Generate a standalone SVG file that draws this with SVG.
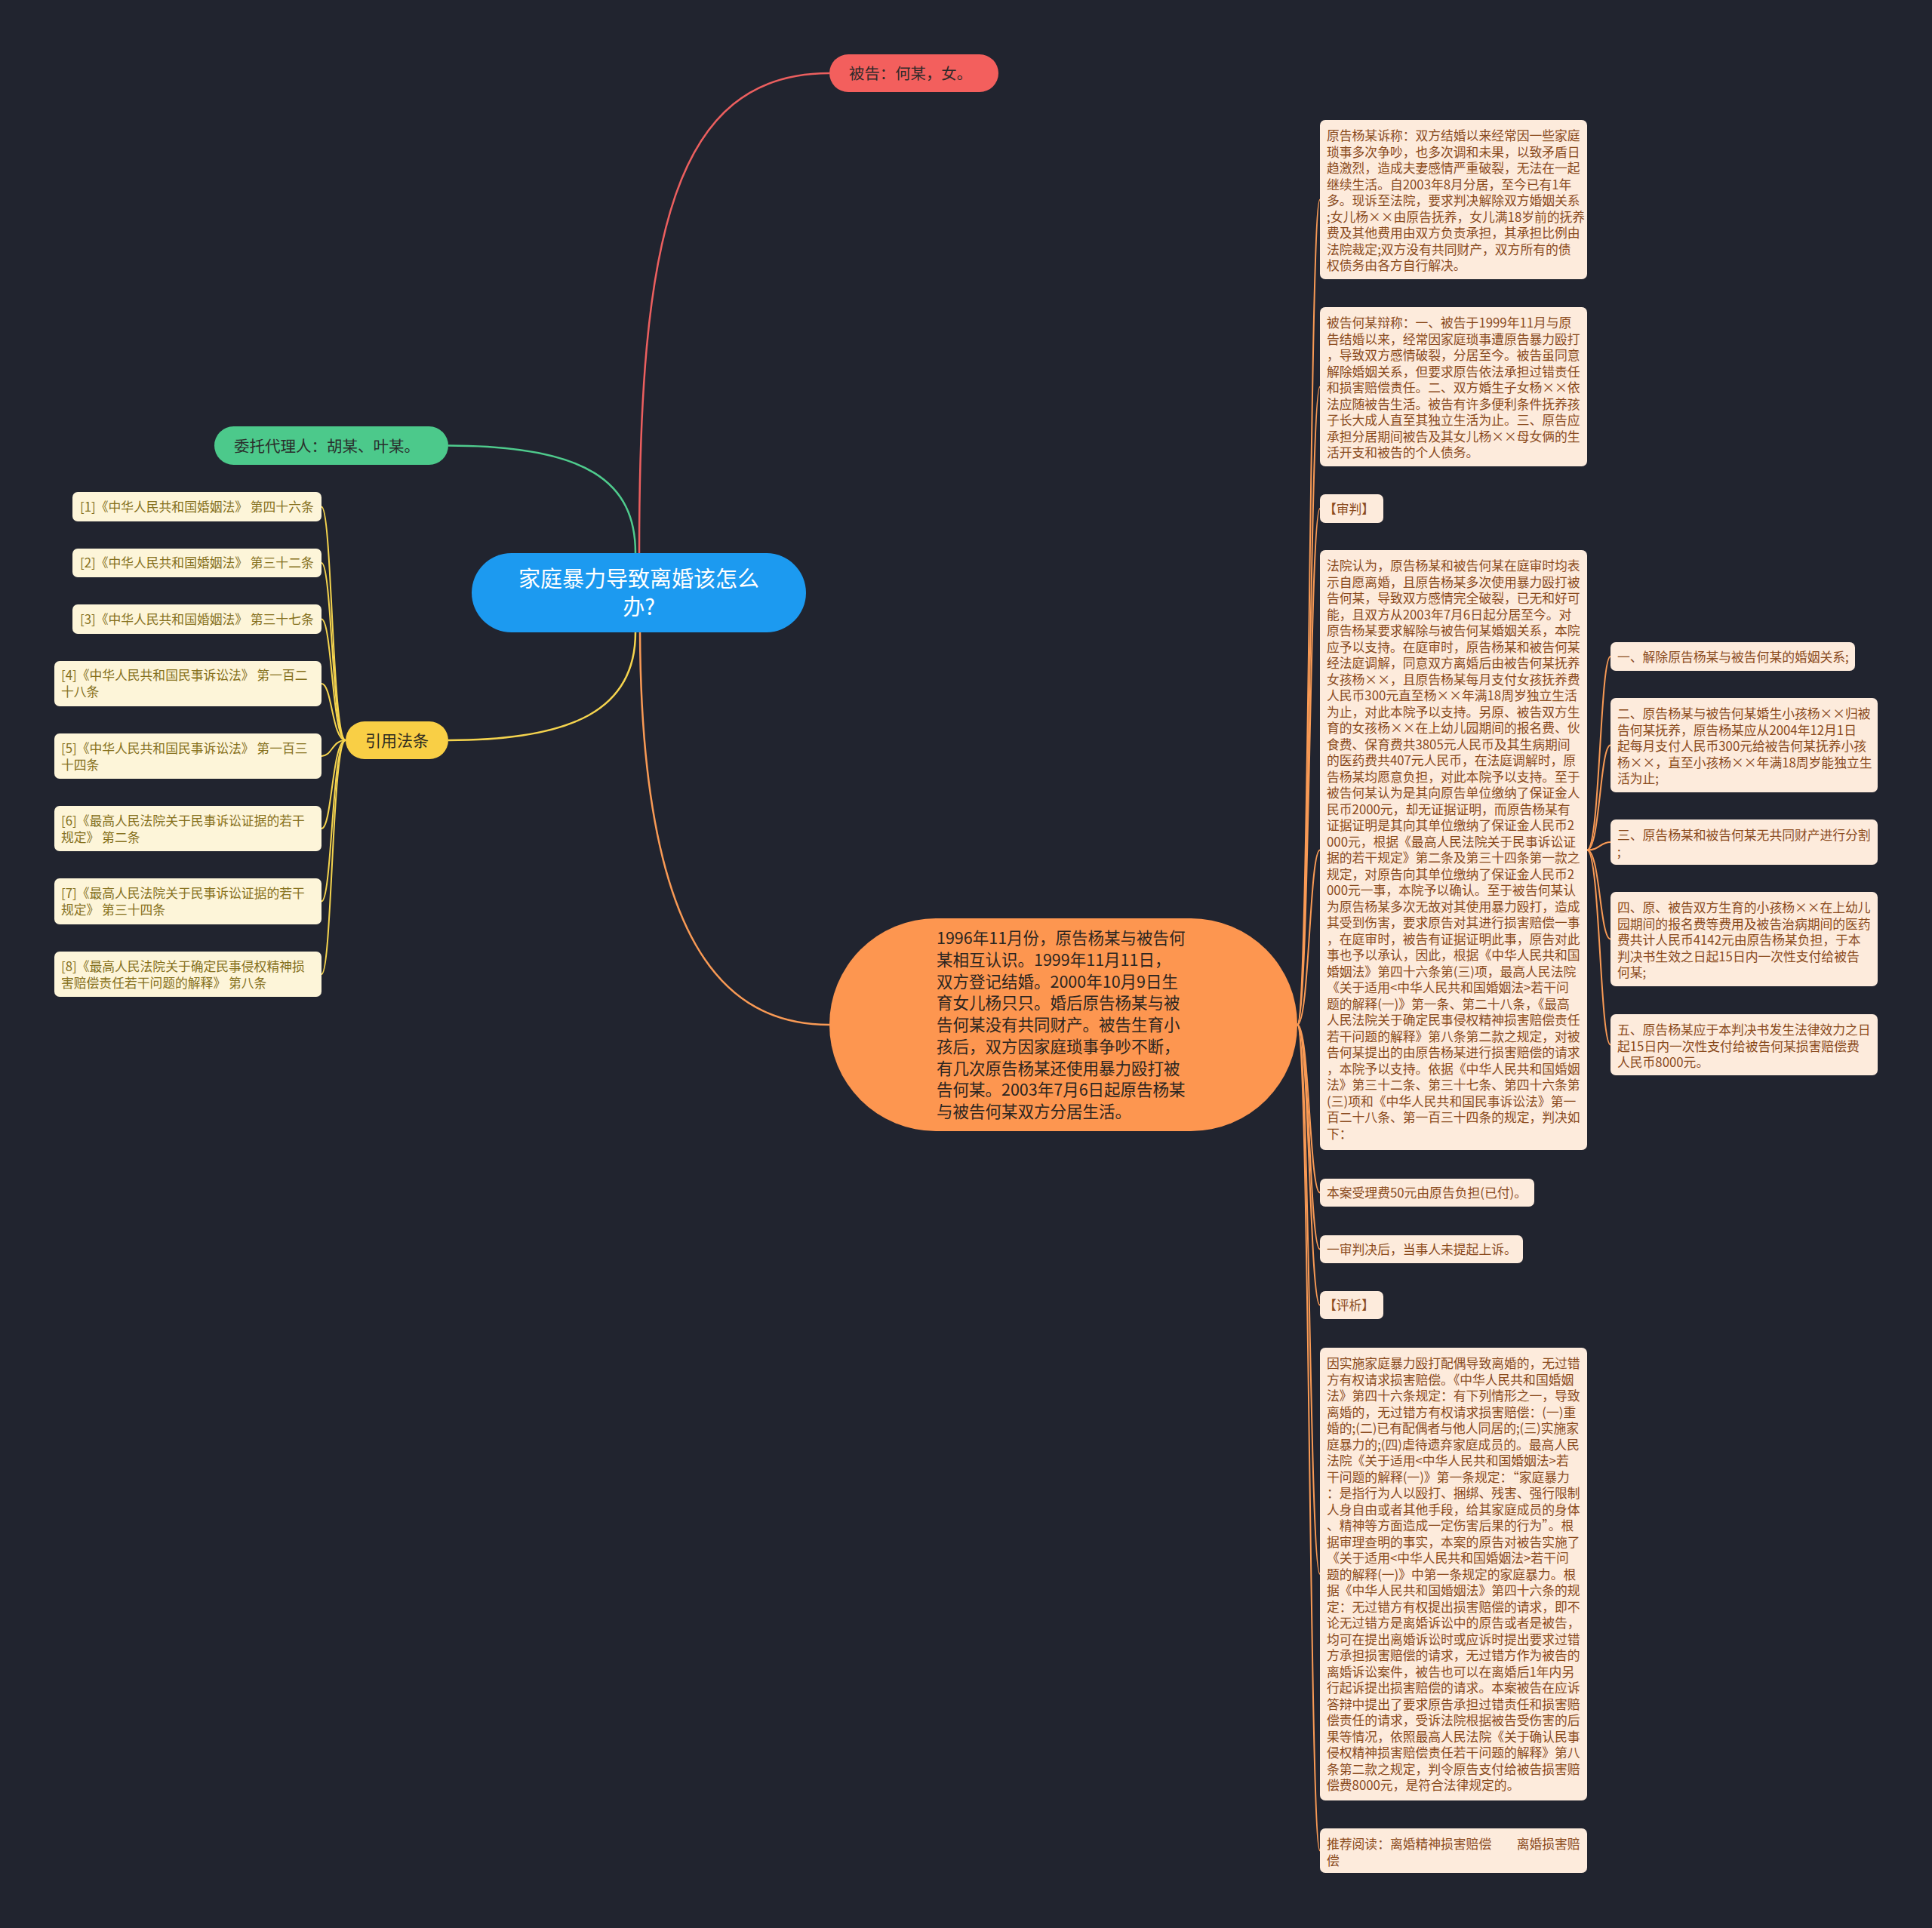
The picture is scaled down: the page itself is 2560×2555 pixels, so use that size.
<svg xmlns="http://www.w3.org/2000/svg" width="2560" height="2555" viewBox="0 0 2560 2555">
<style>
text{font-family:"Noto Sans CJK SC","Noto Sans",sans-serif;}
.bg{fill:#21242f;}
.rb{fill:#fdebdc;}
.rt{fill:#8a4a1c;font-size:16.8px;}
.lb{fill:#fdf5d9;}
.lt{fill:#85701c;font-size:16.8px;}
.c-red{fill:none;stroke:#ec5f5f;stroke-width:2.5;}
.c-green{fill:none;stroke:#4fcb8d;stroke-width:2.5;}
.c-yellow{fill:none;stroke:#f5d44e;stroke-width:2.5;}
.c-orange{fill:none;stroke:#f99a55;stroke-width:2.5;}
.c-y2{fill:none;stroke:#f5d44e;stroke-width:2;}
.c-o2{fill:none;stroke:#f99a55;stroke-width:2;}
</style>
<rect class="bg" x="0" y="0" width="2560" height="2555"/>

<g id="connectors">
<path class="c-red" d="M 847 733 C 847 320 890 97 1099 97"/>
<path class="c-green" d="M 842 733 C 842 640 780 590.5 594 590.5"/>
<path class="c-yellow" d="M 842 838 C 842 940 760 981 594 981"/>
<path class="c-orange" d="M 848 838 C 850 1250 960 1358 1099 1358"/>
<path class="c-y2" d="M 458 981 C 440 981 440 671.5 426 671.5"/>
<path class="c-y2" d="M 458 981 C 440 981 440 746 426 746"/>
<path class="c-y2" d="M 458 981 C 440 981 440 820.5 426 820.5"/>
<path class="c-y2" d="M 458 981 C 440 981 440 906 426 906"/>
<path class="c-y2" d="M 458 981 C 440 981 440 1002 426 1002"/>
<path class="c-y2" d="M 458 981 C 440 981 440 1098 426 1098"/>
<path class="c-y2" d="M 458 981 C 440 981 440 1194.5 426 1194.5"/>
<path class="c-y2" d="M 458 981 C 440 981 440 1291 426 1291"/>
<path class="c-o2" d="M 1719 1358 C 1735 1358 1735 264.5 1749 264.5"/>
<path class="c-o2" d="M 1719 1358 C 1735 1358 1735 512.5 1749 512.5"/>
<path class="c-o2" d="M 1719 1358 C 1735 1358 1735 674 1749 674"/>
<path class="c-o2" d="M 1719 1358 C 1735 1358 1735 1126.5 1749 1126.5"/>
<path class="c-o2" d="M 1719 1358 C 1735 1358 1735 1580.5 1749 1580.5"/>
<path class="c-o2" d="M 1719 1358 C 1735 1358 1735 1655.5 1749 1655.5"/>
<path class="c-o2" d="M 1719 1358 C 1735 1358 1735 1729.5 1749 1729.5"/>
<path class="c-o2" d="M 1719 1358 C 1735 1358 1735 2086 1749 2086"/>
<path class="c-o2" d="M 1719 1358 C 1735 1358 1735 2452.5 1749 2452.5"/>
<path class="c-o2" d="M 2103 1126.5 C 2120 1126.5 2120 870 2134 870"/>
<path class="c-o2" d="M 2103 1126.5 C 2120 1126.5 2120 987.5 2134 987.5"/>
<path class="c-o2" d="M 2103 1126.5 C 2120 1126.5 2120 1116 2134 1116"/>
<path class="c-o2" d="M 2103 1126.5 C 2120 1126.5 2120 1244.5 2134 1244.5"/>
<path class="c-o2" d="M 2103 1126.5 C 2120 1126.5 2120 1384.5 2134 1384.5"/>
</g>

<g id="root">
<rect x="625" y="733" width="443" height="105" rx="52.5" fill="#1c9af0"/>
<text x="846.5" y="778" font-size="29" fill="#ffffff" text-anchor="middle">家庭暴力导致离婚该怎么</text>
<text x="846.5" y="815" font-size="29" fill="#ffffff" text-anchor="middle">办?</text>
</g>

<g id="n-defendant">
<rect x="1099" y="72" width="224" height="50" rx="25" fill="#f35f5d"/>
<text x="1125" y="104.5" font-size="20.4" fill="#2e2a2a">被告：何某，女。</text>
</g>

<g id="n-agent">
<rect x="284" y="565" width="310" height="51" rx="25.5" fill="#4cc98b"/>
<text x="310" y="598.5" font-size="20.5" fill="#2a2f2c">委托代理人：胡某、叶某。</text>
</g>

<g id="n-laws">
<rect x="458" y="956" width="136" height="50" rx="25" fill="#f9cf45"/>
<text x="526" y="989" font-size="21" fill="#2e2a20" text-anchor="middle">引用法条</text>
</g>

<g id="n-law1"><rect class="lb" x="96" y="652" width="330" height="39" rx="7"/><text class="lt" x="106" y="678">[1]《中华人民共和国婚姻法》 第四十六条</text></g>
<g id="n-law2"><rect class="lb" x="96" y="727" width="330" height="38" rx="7"/><text class="lt" x="106" y="752">[2]《中华人民共和国婚姻法》 第三十二条</text></g>
<g id="n-law3"><rect class="lb" x="96" y="801" width="330" height="39" rx="7"/><text class="lt" x="106" y="826.5">[3]《中华人民共和国婚姻法》 第三十七条</text></g>
<g id="n-law4"><rect class="lb" x="72" y="876" width="354" height="60" rx="7"/><text class="lt" x="81" y="901"><tspan x="81">[4]《中华人民共和国民事诉讼法》 第一百二</tspan><tspan x="81" dy="22">十八条</tspan></text></g>
<g id="n-law5"><rect class="lb" x="72" y="972" width="354" height="60" rx="7"/><text class="lt" x="81" y="997.5"><tspan x="81">[5]《中华人民共和国民事诉讼法》 第一百三</tspan><tspan x="81" dy="22">十四条</tspan></text></g>
<g id="n-law6"><rect class="lb" x="72" y="1068" width="354" height="60" rx="7"/><text class="lt" x="81" y="1093.5"><tspan x="81">[6]《最高人民法院关于民事诉讼证据的若干</tspan><tspan x="81" dy="22">规定》 第二条</tspan></text></g>
<g id="n-law7"><rect class="lb" x="72" y="1164" width="354" height="61" rx="7"/><text class="lt" x="81" y="1189.5"><tspan x="81">[7]《最高人民法院关于民事诉讼证据的若干</tspan><tspan x="81" dy="22">规定》 第三十四条</tspan></text></g>
<g id="n-law8"><rect class="lb" x="72" y="1261" width="354" height="60" rx="7"/><text class="lt" x="81" y="1286.5"><tspan x="81">[8]《最高人民法院关于确定民事侵权精神损</tspan><tspan x="81" dy="22">害赔偿责任若干问题的解释》 第八条</tspan></text></g>

<g id="n-facts">
<rect x="1099" y="1217" width="620" height="282" rx="141" fill="#fd9650"/>
<text x="1241" y="1251" font-size="21.5" fill="#2b2520">
<tspan x="1241">1996年11月份，原告杨某与被告何</tspan>
<tspan x="1241" dy="28.75">某相互认识。1999年11月11日，</tspan>
<tspan x="1241" dy="28.75">双方登记结婚。2000年10月9日生</tspan>
<tspan x="1241" dy="28.75">育女儿杨只只。婚后原告杨某与被</tspan>
<tspan x="1241" dy="28.75">告何某没有共同财产。被告生育小</tspan>
<tspan x="1241" dy="28.75">孩后，双方因家庭琐事争吵不断，</tspan>
<tspan x="1241" dy="28.75">有几次原告杨某还使用暴力殴打被</tspan>
<tspan x="1241" dy="28.75">告何某。2003年7月6日起原告杨某</tspan>
<tspan x="1241" dy="28.75">与被告何某双方分居生活。</tspan>
</text>
</g>

<g id="n-claim">
<rect class="rb" x="1749" y="159" width="354" height="211" rx="7"/>
<text class="rt" x="1758" y="186">
<tspan x="1758">原告杨某诉称：双方结婚以来经常因一些家庭</tspan>
<tspan x="1758" dy="21.5">琐事多次争吵，也多次调和未果，以致矛盾日</tspan>
<tspan x="1758" dy="21.5">趋激烈，造成夫妻感情严重破裂，无法在一起</tspan>
<tspan x="1758" dy="21.5">继续生活。自2003年8月分居，至今已有1年</tspan>
<tspan x="1758" dy="21.5">多。现诉至法院，要求判决解除双方婚姻关系</tspan>
<tspan x="1758" dy="21.5">;女儿杨××由原告抚养，女儿满18岁前的抚养</tspan>
<tspan x="1758" dy="21.5">费及其他费用由双方负责承担，其承担比例由</tspan>
<tspan x="1758" dy="21.5">法院裁定;双方没有共同财产，双方所有的债</tspan>
<tspan x="1758" dy="21.5">权债务由各方自行解决。</tspan>
</text>
</g>

<g id="n-defense">
<rect class="rb" x="1749" y="407" width="354" height="211" rx="7"/>
<text class="rt" x="1758" y="434">
<tspan x="1758">被告何某辩称：一、被告于1999年11月与原</tspan>
<tspan x="1758" dy="21.5">告结婚以来，经常因家庭琐事遭原告暴力殴打</tspan>
<tspan x="1758" dy="21.5">，导致双方感情破裂，分居至今。被告虽同意</tspan>
<tspan x="1758" dy="21.5">解除婚姻关系，但要求原告依法承担过错责任</tspan>
<tspan x="1758" dy="21.5">和损害赔偿责任。二、双方婚生子女杨××依</tspan>
<tspan x="1758" dy="21.5">法应随被告生活。被告有许多便利条件抚养孩</tspan>
<tspan x="1758" dy="21.5">子长大成人直至其独立生活为止。三、原告应</tspan>
<tspan x="1758" dy="21.5">承担分居期间被告及其女儿杨××母女俩的生</tspan>
<tspan x="1758" dy="21.5">活开支和被告的个人债务。</tspan>
</text>
</g>

<g id="n-trial">
<rect class="rb" x="1749" y="655" width="84" height="38" rx="7"/>
<text class="rt" x="1754" y="680.5">【审判】</text>
</g>

<g id="n-court">
<rect class="rb" x="1749" y="729" width="354" height="795" rx="7"/>
<text class="rt" x="1758" y="756">
<tspan x="1758">法院认为，原告杨某和被告何某在庭审时均表</tspan>
<tspan x="1758" dy="21.5">示自愿离婚，且原告杨某多次使用暴力殴打被</tspan>
<tspan x="1758" dy="21.5">告何某，导致双方感情完全破裂，已无和好可</tspan>
<tspan x="1758" dy="21.5">能，且双方从2003年7月6日起分居至今。对</tspan>
<tspan x="1758" dy="21.5">原告杨某要求解除与被告何某婚姻关系，本院</tspan>
<tspan x="1758" dy="21.5">应予以支持。在庭审时，原告杨某和被告何某</tspan>
<tspan x="1758" dy="21.5">经法庭调解，同意双方离婚后由被告何某抚养</tspan>
<tspan x="1758" dy="21.5">女孩杨××，且原告杨某每月支付女孩抚养费</tspan>
<tspan x="1758" dy="21.5">人民币300元直至杨××年满18周岁独立生活</tspan>
<tspan x="1758" dy="21.5">为止，对此本院予以支持。另原、被告双方生</tspan>
<tspan x="1758" dy="21.5">育的女孩杨××在上幼儿园期间的报名费、伙</tspan>
<tspan x="1758" dy="21.5">食费、保育费共3805元人民币及其生病期间</tspan>
<tspan x="1758" dy="21.5">的医药费共407元人民币，在法庭调解时，原</tspan>
<tspan x="1758" dy="21.5">告杨某均愿意负担，对此本院予以支持。至于</tspan>
<tspan x="1758" dy="21.5">被告何某认为是其向原告单位缴纳了保证金人</tspan>
<tspan x="1758" dy="21.5">民币2000元，却无证据证明，而原告杨某有</tspan>
<tspan x="1758" dy="21.5">证据证明是其向其单位缴纳了保证金人民币2</tspan>
<tspan x="1758" dy="21.5">000元，根据《最高人民法院关于民事诉讼证</tspan>
<tspan x="1758" dy="21.5">据的若干规定》第二条及第三十四条第一款之</tspan>
<tspan x="1758" dy="21.5">规定，对原告向其单位缴纳了保证金人民币2</tspan>
<tspan x="1758" dy="21.5">000元一事，本院予以确认。至于被告何某认</tspan>
<tspan x="1758" dy="21.5">为原告杨某多次无故对其使用暴力殴打，造成</tspan>
<tspan x="1758" dy="21.5">其受到伤害，要求原告对其进行损害赔偿一事</tspan>
<tspan x="1758" dy="21.5">，在庭审时，被告有证据证明此事，原告对此</tspan>
<tspan x="1758" dy="21.5">事也予以承认，因此，根据《中华人民共和国</tspan>
<tspan x="1758" dy="21.5">婚姻法》第四十六条第(三)项，最高人民法院</tspan>
<tspan x="1758" dy="21.5">《关于适用&lt;中华人民共和国婚姻法&gt;若干问</tspan>
<tspan x="1758" dy="21.5">题的解释(一)》第一条、第二十八条，《最高</tspan>
<tspan x="1758" dy="21.5">人民法院关于确定民事侵权精神损害赔偿责任</tspan>
<tspan x="1758" dy="21.5">若干问题的解释》第八条第二款之规定，对被</tspan>
<tspan x="1758" dy="21.5">告何某提出的由原告杨某进行损害赔偿的请求</tspan>
<tspan x="1758" dy="21.5">，本院予以支持。依据《中华人民共和国婚姻</tspan>
<tspan x="1758" dy="21.5">法》第三十二条、第三十七条、第四十六条第</tspan>
<tspan x="1758" dy="21.5">(三)项和《中华人民共和国民事诉讼法》第一</tspan>
<tspan x="1758" dy="21.5">百二十八条、第一百三十四条的规定，判决如</tspan>
<tspan x="1758" dy="21.5">下：</tspan>
</text>
</g>

<g id="n-item1">
<rect class="rb" x="2134" y="851" width="324" height="38" rx="7"/>
<text class="rt" x="2143" y="876.5">一、解除原告杨某与被告何某的婚姻关系;</text>
</g>
<g id="n-item2">
<rect class="rb" x="2134" y="925" width="354" height="125" rx="7"/>
<text class="rt" x="2143" y="952">
<tspan x="2143">二、原告杨某与被告何某婚生小孩杨××归被</tspan>
<tspan x="2143" dy="21.5">告何某抚养，原告杨某应从2004年12月1日</tspan>
<tspan x="2143" dy="21.5">起每月支付人民币300元给被告何某抚养小孩</tspan>
<tspan x="2143" dy="21.5">杨××，直至小孩杨××年满18周岁能独立生</tspan>
<tspan x="2143" dy="21.5">活为止;</tspan>
</text>
</g>
<g id="n-item3">
<rect class="rb" x="2134" y="1086" width="354" height="60" rx="7"/>
<text class="rt" x="2143" y="1113">
<tspan x="2143">三、原告杨某和被告何某无共同财产进行分割</tspan>
<tspan x="2143" dy="21.5">;</tspan>
</text>
</g>
<g id="n-item4">
<rect class="rb" x="2134" y="1182" width="354" height="125" rx="7"/>
<text class="rt" x="2143" y="1209">
<tspan x="2143">四、原、被告双方生育的小孩杨××在上幼儿</tspan>
<tspan x="2143" dy="21.5">园期间的报名费等费用及被告治病期间的医药</tspan>
<tspan x="2143" dy="21.5">费共计人民币4142元由原告杨某负担，于本</tspan>
<tspan x="2143" dy="21.5">判决书生效之日起15日内一次性支付给被告</tspan>
<tspan x="2143" dy="21.5">何某;</tspan>
</text>
</g>
<g id="n-item5">
<rect class="rb" x="2134" y="1344" width="354" height="81" rx="7"/>
<text class="rt" x="2143" y="1371">
<tspan x="2143">五、原告杨某应于本判决书发生法律效力之日</tspan>
<tspan x="2143" dy="21.5">起15日内一次性支付给被告何某损害赔偿费</tspan>
<tspan x="2143" dy="21.5">人民币8000元。</tspan>
</text>
</g>

<g id="n-fee">
<rect class="rb" x="1749" y="1562" width="284" height="37" rx="7"/>
<text class="rt" x="1758" y="1587">本案受理费50元由原告负担(已付)。</text>
</g>
<g id="n-appeal">
<rect class="rb" x="1749" y="1637" width="269" height="37" rx="7"/>
<text class="rt" x="1758" y="1662">一审判决后，当事人未提起上诉。</text>
</g>
<g id="n-analysis">
<rect class="rb" x="1749" y="1711" width="84" height="37" rx="7"/>
<text class="rt" x="1754" y="1736">【评析】</text>
</g>

<g id="n-comment">
<rect class="rb" x="1749" y="1786" width="354" height="600" rx="7"/>
<text class="rt" x="1758" y="1813">
<tspan x="1758">因实施家庭暴力殴打配偶导致离婚的，无过错</tspan>
<tspan x="1758" dy="21.5">方有权请求损害赔偿。《中华人民共和国婚姻</tspan>
<tspan x="1758" dy="21.5">法》第四十六条规定：有下列情形之一，导致</tspan>
<tspan x="1758" dy="21.5">离婚的，无过错方有权请求损害赔偿：(一)重</tspan>
<tspan x="1758" dy="21.5">婚的;(二)已有配偶者与他人同居的;(三)实施家</tspan>
<tspan x="1758" dy="21.5">庭暴力的;(四)虐待遗弃家庭成员的。最高人民</tspan>
<tspan x="1758" dy="21.5">法院《关于适用&lt;中华人民共和国婚姻法&gt;若</tspan>
<tspan x="1758" dy="21.5">干问题的解释(一)》第一条规定：“家庭暴力</tspan>
<tspan x="1758" dy="21.5">：是指行为人以殴打、捆绑、残害、强行限制</tspan>
<tspan x="1758" dy="21.5">人身自由或者其他手段，给其家庭成员的身体</tspan>
<tspan x="1758" dy="21.5">、精神等方面造成一定伤害后果的行为”。根</tspan>
<tspan x="1758" dy="21.5">据审理查明的事实，本案的原告对被告实施了</tspan>
<tspan x="1758" dy="21.5">《关于适用&lt;中华人民共和国婚姻法&gt;若干问</tspan>
<tspan x="1758" dy="21.5">题的解释(一)》中第一条规定的家庭暴力。根</tspan>
<tspan x="1758" dy="21.5">据《中华人民共和国婚姻法》第四十六条的规</tspan>
<tspan x="1758" dy="21.5">定：无过错方有权提出损害赔偿的请求，即不</tspan>
<tspan x="1758" dy="21.5">论无过错方是离婚诉讼中的原告或者是被告，</tspan>
<tspan x="1758" dy="21.5">均可在提出离婚诉讼时或应诉时提出要求过错</tspan>
<tspan x="1758" dy="21.5">方承担损害赔偿的请求，无过错方作为被告的</tspan>
<tspan x="1758" dy="21.5">离婚诉讼案件，被告也可以在离婚后1年内另</tspan>
<tspan x="1758" dy="21.5">行起诉提出损害赔偿的请求。本案被告在应诉</tspan>
<tspan x="1758" dy="21.5">答辩中提出了要求原告承担过错责任和损害赔</tspan>
<tspan x="1758" dy="21.5">偿责任的请求，受诉法院根据被告受伤害的后</tspan>
<tspan x="1758" dy="21.5">果等情况，依照最高人民法院《关于确认民事</tspan>
<tspan x="1758" dy="21.5">侵权精神损害赔偿责任若干问题的解释》第八</tspan>
<tspan x="1758" dy="21.5">条第二款之规定，判令原告支付给被告损害赔</tspan>
<tspan x="1758" dy="21.5">偿费8000元，是符合法律规定的。</tspan>
</text>
</g>

<g id="n-reading">
<rect class="rb" x="1749" y="2423" width="354" height="59" rx="7"/>
<text class="rt" x="1758" y="2450">
<tspan x="1758">推荐阅读：离婚精神损害赔偿　　离婚损害赔</tspan>
<tspan x="1758" dy="21.5">偿</tspan>
</text>
</g>
</svg>
